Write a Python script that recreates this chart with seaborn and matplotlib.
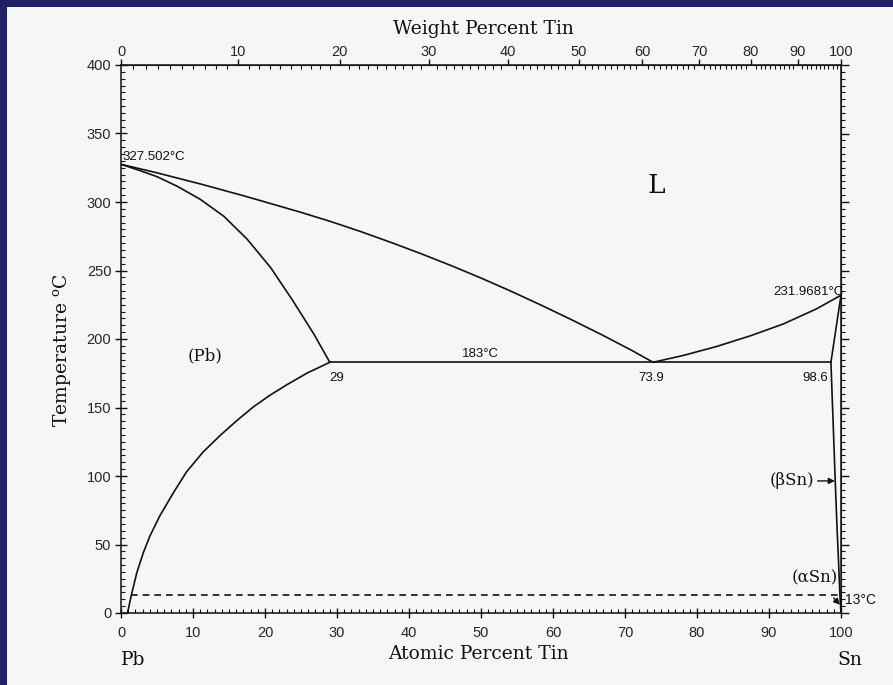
import numpy as np
import pandas as pd
import matplotlib
matplotlib.use("Agg")
import matplotlib.pyplot as plt
import seaborn as sns
from matplotlib.patches import Rectangle
from matplotlib.ticker import MultipleLocator, FixedLocator
from matplotlib import font_manager

# Pb-Sn phase diagram, composition in atomic percent Sn, temperature in deg C
M_PB = 207.2
M_SN = 118.71

liquidus_pb_at = [0, 5, 11, 17, 24.9, 29.1, 33.3, 37.5, 41.6, 45.8, 50,
                  54.2, 58.4, 62.6, 66.7, 70.9, 73.9]
liquidus_pb_T = [327.502, 321.3, 313.2, 304.6, 292.6, 285.8, 278.4, 270.5,
                 262.4, 253.7, 244.5, 234.8, 224.6, 214.0, 203.3, 191.8, 183]

solidus_pb_at = [0, 2.6, 5, 7.8, 11, 14.3, 17.5, 20.8, 23.8, 26.8, 29]
solidus_pb_T = [327.502, 323, 318.5, 311.5, 302, 289.5, 273, 252, 228.5,
                203.5, 183]

solvus_pb_at = [29, 25.8, 23, 20.7, 18.4, 16.1, 13.75, 11.4, 9.1, 7.3, 5.4,
                4.0, 3.1, 2.2, 1.5, 0.9]
solvus_pb_T = [183, 175, 166.5, 159, 150.5, 140.5, 129.5, 117.5, 103, 88, 71,
               56, 44, 29.5, 14.5, 0]

eutectic_at = [29, 73.9, 98.6]
eutectic_T = [183, 183, 183]

liquidus_sn_at = [73.9, 78.1, 82.7, 87.4, 92.0, 96.6, 100]
liquidus_sn_T = [183, 188, 194.5, 202.3, 211, 222, 231.9681]

solidus_sn_at = [98.6, 100]
solidus_sn_T = [183, 231.9681]

solvus_sn_at = [98.6, 98.9, 99.2, 99.45, 99.64, 99.85, 100]
solvus_sn_T = [183, 140, 96, 62, 40, 13, 0]

transition_at = [1.4, 100]
transition_T = [13, 13]

at_ticks = list(range(0, 101, 10))
wt_ticks = list(range(0, 101, 10))
T_ticks = list(range(0, 401, 50))

boundaries = {
    "liquidus Pb": (liquidus_pb_at, liquidus_pb_T),
    "solidus Pb": (solidus_pb_at, solidus_pb_T),
    "solvus Pb": (solvus_pb_at, solvus_pb_T),
    "eutectic": (eutectic_at, eutectic_T),
    "liquidus Sn": (liquidus_sn_at, liquidus_sn_T),
    "solidus Sn": (solidus_sn_at, solidus_sn_T),
    "solvus Sn": (solvus_sn_at, solvus_sn_T),
}
df = pd.concat(
    [pd.DataFrame({"at": a, "T": t, "boundary": name})
     for name, (a, t) in boundaries.items()],
    ignore_index=True,
)
df_trans = pd.DataFrame({"at": transition_at, "T": transition_T})


def at_to_wt(a):
    a = np.asarray(a, dtype=float)
    with np.errstate(divide="ignore", invalid="ignore"):
        num = a * M_SN
        return 100.0 * num / (num + (100.0 - a) * M_PB)


def wt_to_at(w):
    w = np.asarray(w, dtype=float)
    with np.errstate(divide="ignore", invalid="ignore"):
        n = w / M_SN
        return 100.0 * n / (n + (100.0 - w) / M_PB)


sns.set_style("ticks")
available = {f.name for f in font_manager.fontManager.ttflist}
if "Liberation Sans Narrow" in available:
    tick_font, tick_size = "Liberation Sans Narrow", 12.5
else:
    tick_font, tick_size = "Liberation Sans", 10.5
serif = ["DejaVu Serif"]
sans = ["Liberation Sans", "DejaVu Sans"]
plt.rcParams["font.family"] = sans
plt.rcParams["mathtext.fontset"] = "dejavuserif"
plt.rcParams["lines.solid_joinstyle"] = "round"

BLUE = "#211f66"
PAPER = "#f6f6f4"
INK = "#111111"

fig = plt.figure(figsize=(8.93, 6.85), dpi=100)
fig.patch.set_facecolor(BLUE)
fig.add_artist(Rectangle((7 / 893, 0), 1 - 7 / 893, 1 - 7 / 685,
                         transform=fig.transFigure, facecolor=PAPER,
                         edgecolor="none", zorder=0))
ax = fig.add_axes([121 / 893, 1 - 613 / 685, 720 / 893, 548 / 685])
ax.set_facecolor("none")

sns.lineplot(data=df, x="at", y="T", units="boundary", estimator=None,
             sort=False, color=INK, lw=1.2, ax=ax, legend=False)
sns.lineplot(data=df_trans, x="at", y="T", color=INK, lw=1.2,
             linestyle=(0, (4, 3)), ax=ax, legend=False)

ax.set_xlim(0, 100)
ax.set_ylim(0, 400)
ax.set_xlabel("")
ax.set_ylabel("")
for sp in ax.spines.values():
    sp.set_visible(True)
    sp.set_color(INK)
    sp.set_linewidth(1.1)

# bottom axis: atomic percent
ax.set_xticks(at_ticks)
ax.xaxis.set_minor_locator(MultipleLocator(1))
ax.tick_params(axis="x", which="major", direction="inout", length=7,
               width=1, color=INK, pad=6, labelsize=tick_size)
ax.tick_params(axis="x", which="minor", direction="in", length=3,
               width=0.8, color=INK)
for lab in ax.get_xticklabels():
    lab.set_fontfamily(tick_font)

# left axis: temperature
ax.set_yticks(T_ticks)
ax.yaxis.set_minor_locator(MultipleLocator(5))
ax.tick_params(axis="y", which="major", direction="inout", length=8,
               width=1, color=INK, pad=3, labelsize=10.5)
ax.tick_params(axis="y", which="minor", direction="in", length=3,
               width=0.8, color=INK)
ax.tick_params(right=False, top=False, which="both")

# top axis: weight percent
secx = ax.secondary_xaxis("top", functions=(at_to_wt, wt_to_at))
secx.set_xticks(wt_ticks)
secx.xaxis.set_minor_locator(FixedLocator(list(range(0, 101, 1))))
secx.tick_params(which="major", direction="out", length=4, width=1,
                 color=INK, pad=0.5, labelsize=tick_size)
secx.tick_params(which="minor", direction="in", length=3, width=0.8,
                 color=INK)
for lab in secx.get_xticklabels():
    lab.set_fontfamily(tick_font)

# right axis: unlabeled ticks
secy = ax.secondary_yaxis("right")
secy.set_yticks(T_ticks)
secy.yaxis.set_minor_locator(MultipleLocator(5))
secy.tick_params(which="major", direction="out", length=6, width=1,
                 color=INK, labelright=False)
secy.tick_params(which="minor", direction="out", length=3, width=0.8,
                 color=INK)

# annotations
small = dict(fontsize=9.5, color=INK, family=sans)
ax.text(0.2, 333, "327.502°C", ha="left", va="center", **small)
ax.text(100.3, 234.5, "231.9681°C", ha="right", va="center", **small)
ax.text(49.9, 184.5, "183°C", ha="center", va="bottom", **small)
ax.text(30.0, 171.5, "29", ha="center", va="center", **small)
ax.text(73.7, 171.5, "73.9", ha="center", va="center", **small)
ax.text(96.4, 171.5, "98.6", ha="center", va="center", **small)
ax.text(100.6, 9.5, "13°C", ha="left", va="center", clip_on=False,
        fontsize=10, color=INK, family=sans)

ax.text(11.7, 188, "(Pb)", ha="center", va="center", fontsize=12,
        color=INK, family=serif)
ax.text(74.3, 312, "L", ha="center", va="center", fontsize=19,
        color=INK, family=serif)
ax.annotate("(βSn)", xy=(99.15, 96.4), xytext=(93.2, 96.4),
            ha="center", va="center", fontsize=12, color=INK, family=serif,
            arrowprops=dict(arrowstyle="-|>", color=INK, lw=1.0,
                            shrinkA=26, shrinkB=0, mutation_scale=9))
ax.annotate("(αSn)", xy=(99.85, 6), xytext=(96.4, 25.5),
            ha="center", va="center", fontsize=12, color=INK, family=serif,
            arrowprops=dict(arrowstyle="-|>", color=INK, lw=1.0,
                            shrinkA=8, shrinkB=0, mutation_scale=9))

# axis titles
fig.text(483 / 893, 1 - 29 / 685, "Weight Percent Tin", ha="center",
         va="center", fontsize=13.5, color=INK, family=serif)
fig.text(478 / 893, 1 - 654 / 685, "Atomic Percent Tin", ha="center",
         va="center", fontsize=13.5, color=INK, family=serif)
fig.text(133 / 893, 1 - 660 / 685, "Pb", ha="center", va="center",
         fontsize=13.5, color=INK, family=serif)
fig.text(850 / 893, 1 - 660 / 685, "Sn", ha="center", va="center",
         fontsize=13.5, color=INK, family=serif)
fig.text(62 / 893, 1 - 350 / 685, r"Temperature $^\mathregular{o}$C",
         ha="center", va="center", rotation=90, fontsize=13.5, color=INK,
         family=serif)

fig.savefig("out.png", dpi=100, facecolor=fig.get_facecolor())
